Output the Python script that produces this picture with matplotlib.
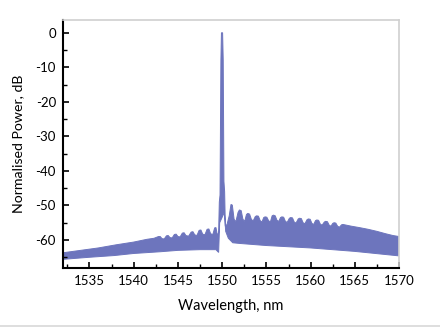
import numpy as np
import matplotlib
matplotlib.use("Agg")
import matplotlib.pyplot as plt
from matplotlib.lines import Line2D
from matplotlib.ticker import MultipleLocator

plt.rcParams['font.family'] = ['Lato', 'DejaVu Sans']
plt.rcParams['axes.unicode_minus'] = False

# upper edge of the spectrum band (wavelength nm, dB)
top_wl = [1532.0, 1534.0, 1536.0, 1538.0, 1540.0, 1541.5, 1542.3, 1542.8, 1543.0,
          1543.2, 1543.45, 1543.7, 1543.9, 1544.1, 1544.35, 1544.6, 1544.8, 1545.0,
          1545.25, 1545.5, 1545.7, 1545.9, 1546.2, 1546.5, 1546.7, 1546.9, 1547.15,
          1547.4, 1547.6, 1547.8, 1548.05, 1548.3, 1548.5, 1548.7, 1548.95, 1549.15,
          1549.3, 1549.45, 1549.6, 1549.68, 1549.76, 1549.86, 1549.92, 1550.05,
          1550.12, 1550.2, 1550.28, 1550.36, 1550.55, 1550.8, 1551.0, 1551.15,
          1551.35, 1551.55, 1551.8, 1551.95, 1552.15, 1552.35, 1552.55, 1552.75,
          1552.9, 1553.1, 1553.3, 1553.5, 1553.75, 1553.9, 1554.1, 1554.3, 1554.5,
          1554.7, 1554.85, 1555.05, 1555.25, 1555.45, 1555.65, 1555.8, 1556.0,
          1556.2, 1556.4, 1556.6, 1556.75, 1556.95, 1557.15, 1557.35, 1557.6,
          1557.75, 1557.95, 1558.15, 1558.35, 1558.6, 1558.75, 1558.95, 1559.15,
          1559.35, 1559.6, 1559.75, 1559.95, 1560.15, 1560.35, 1560.55, 1560.7,
          1560.9, 1561.1, 1561.3, 1561.55, 1561.7, 1561.9, 1562.1, 1562.3, 1562.5,
          1562.65, 1562.85, 1563.05, 1563.25, 1563.5, 1563.65, 1563.85, 1564.6,
          1565.5, 1566.5, 1567.5, 1568.5, 1569.3, 1570.0]
top_db = [-63.7, -63.0, -62.3, -61.4, -60.6, -59.8, -59.5, -59.0, -59.0,
          -59.6, -59.7, -58.8, -58.7, -59.3, -59.4, -58.4, -58.3, -59.0,
          -59.1, -58.0, -57.9, -58.7, -58.9, -57.7, -57.6, -58.5, -58.7,
          -57.2, -57.1, -58.3, -58.5, -56.9, -56.8, -58.2, -58.4, -56.5,
          -56.4, -58.5, -58.0, -49.0, -47.0, -8.0, 0.0, 0.0,
          -8.0, -43.0, -46.0, -56.0, -55.5, -53.0, -49.7, -49.9,
          -54.0, -54.7, -52.0, -51.3, -51.5, -54.0, -54.6, -52.6,
          -52.3, -52.5, -54.0, -54.5, -53.2, -53.0, -53.1, -54.4, -54.8,
          -53.5, -53.3, -53.4, -54.4, -54.8, -53.0, -52.8, -53.0,
          -54.3, -54.6, -53.5, -53.3, -53.4, -54.6, -54.9, -53.7,
          -53.5, -53.6, -54.8, -55.1, -53.9, -53.7, -53.8, -55.0,
          -55.3, -54.1, -53.9, -54.0, -55.2, -55.5, -54.4, -54.2,
          -54.3, -55.4, -55.7, -54.8, -54.6, -54.7, -55.7, -56.0, -55.2,
          -55.0, -55.1, -56.0, -56.3, -55.6, -55.5, -55.6, -56.0,
          -56.4, -56.9, -57.5, -58.2, -58.7, -59.0]

# lower edge of the band
bot_wl = [1532.0, 1535.0, 1537.8, 1540.0, 1543.0, 1545.0, 1547.5, 1549.3, 1549.6,
          1549.72, 1550.25, 1550.4, 1550.7, 1551.2, 1552.0, 1555.0, 1560.0,
          1565.0, 1570.0]
bot_db = [-65.6, -65.0, -64.5, -63.9, -63.4, -63.0, -62.8, -62.8, -63.6,
          -55.0, -52.0, -57.5, -59.5, -60.8, -61.0, -61.6, -62.3,
          -63.3, -64.6]

xticks = [1535, 1540, 1545, 1550, 1555, 1560, 1565, 1570]
yticks = [0, -10, -20, -30, -40, -50, -60]

fig = plt.figure(figsize=(4.4, 3.28), dpi=100)
ax = fig.add_axes([0.143, 0.183, 0.764, 0.756])

color = '#6D75BD'
poly_x = list(top_wl) + list(bot_wl[::-1])
poly_y = list(top_db) + list(bot_db[::-1])
ax.fill(poly_x, poly_y, facecolor=color, edgecolor=color, linewidth=0.7)

ax.set_xlim(1532, 1570)
ax.set_ylim(-68.1, 3.7)
ax.set_xticks(xticks)
ax.set_yticks(yticks)
ax.xaxis.set_minor_locator(MultipleLocator(2.5))
ax.yaxis.set_minor_locator(MultipleLocator(5))

for s in ['left', 'bottom']:
    ax.spines[s].set_linewidth(1.5)
    ax.spines[s].set_color('black')
for s in ['top', 'right']:
    ax.spines[s].set_linewidth(1.2)
    ax.spines[s].set_color('#d0d0d0')

ax.tick_params(which='major', direction='in', length=4.5, width=1.2,
               labelsize=9.5, top=False, right=False, pad=5, colors='black')
ax.tick_params(which='minor', direction='in', length=3, width=1.0,
               top=False, right=False)

ax.set_xlabel('Wavelength, nm', fontsize=10.5, labelpad=9)
ax.set_ylabel('Normalised Power, dB', fontsize=10.2, labelpad=8)

fig.add_artist(Line2D([0, 1], [0.006, 0.006], color='#d8d8d8', linewidth=1.2,
                      transform=fig.transFigure))

fig.savefig('out.png', dpi=100)
